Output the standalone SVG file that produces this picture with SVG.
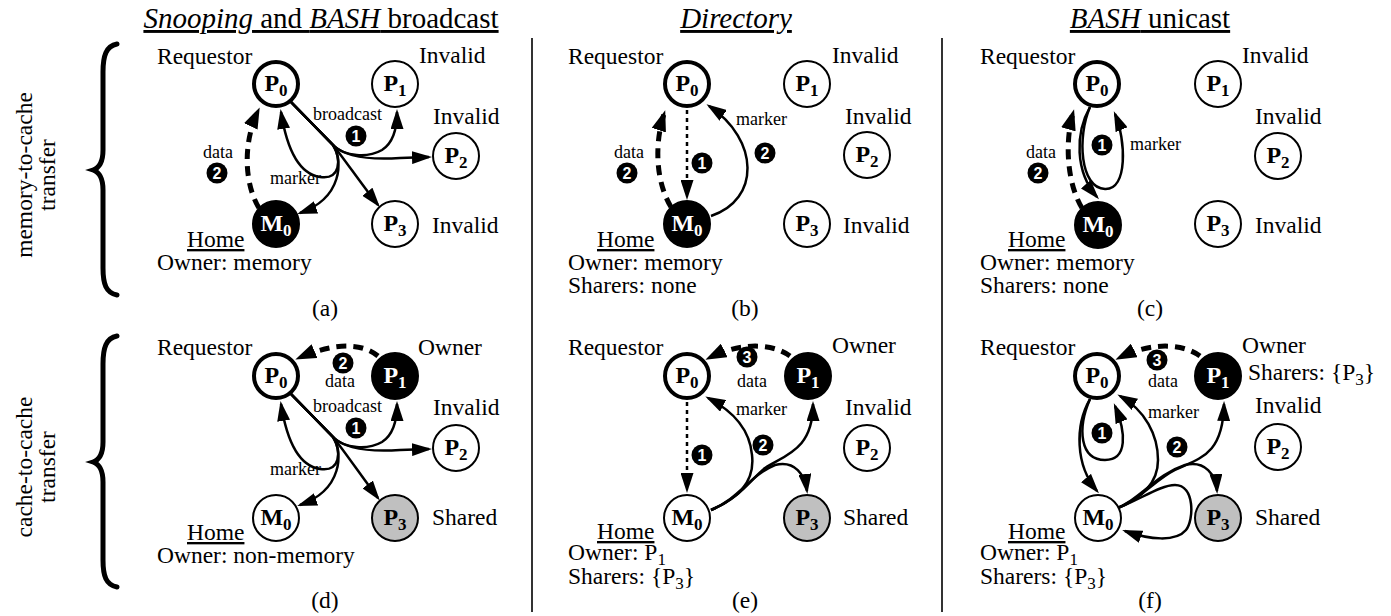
<svg xmlns="http://www.w3.org/2000/svg" width="1391" height="616" viewBox="0 0 1391 616">
<style>
text{font-family:"Liberation Serif","Times New Roman",serif;fill:#000}
.t{font-size:23.5px}
.s{font-size:18px}
.ti{font-size:29px;text-anchor:middle;text-decoration:underline}
.u{text-decoration:underline}
.nl{font-size:24px;font-weight:bold;text-anchor:middle}
.nl tspan{font-size:17px}
.w{fill:#fff}
.nd{fill:#fff;stroke:#000;stroke-width:2}
.rq{stroke-width:4}
.bk{fill:#000}
.gy{fill:#c0c0c0}
.c{fill:none;stroke:#000;stroke-width:2.5}
.d{fill:none;stroke:#000;stroke-width:5;stroke-dasharray:10 7}
.o{fill:none;stroke:#000;stroke-width:2.5;stroke-dasharray:4 4}
.a{marker-end:url(#ah)}
.A{marker-end:url(#AH)}
.bd circle{fill:#000}
.bd text{font-family:"Liberation Sans",Arial,sans-serif;font-weight:bold;font-size:16px;fill:#fff;text-anchor:middle}
.br{fill:none;stroke:#000;stroke-width:5;stroke-linecap:round}
.sep{stroke:#333;stroke-width:2}
</style>
<defs>
<marker id="ah" markerUnits="userSpaceOnUse" markerWidth="20" markerHeight="13" refX="17" refY="6.5" orient="auto"><path d="M0,0 L20,6.5 L0,13 z" fill="#000"/></marker>
<marker id="AH" markerUnits="userSpaceOnUse" markerWidth="21" markerHeight="15" refX="17" refY="7.5" orient="auto"><path d="M0,0 L21,7.5 L0,15 z" fill="#000"/></marker>
</defs>

<g id="headers">
<text class="ti" x="321" y="28"><tspan font-style="italic">Snooping</tspan> and <tspan font-style="italic">BASH</tspan> broadcast</text>
<text class="ti" x="736" y="28" font-style="italic">Directory</text>
<text class="ti" x="1150" y="28"><tspan font-style="italic">BASH</tspan> unicast</text>
<text class="t" transform="translate(32,175) rotate(-90)" text-anchor="middle" font-size="24">memory-to-cache</text>
<text class="t" transform="translate(55,175) rotate(-90)" text-anchor="middle" font-size="24">transfer</text>
<text class="t" transform="translate(32,467) rotate(-90)" text-anchor="middle" font-size="24">cache-to-cache</text>
<text class="t" transform="translate(55,467) rotate(-90)" text-anchor="middle" font-size="24">transfer</text>
<path class="br" d="M117,44 C106,46 103,56 103,72 L103,150 C103,162 99,168 93,170 C99,172 103,178 103,190 L103,268 C103,284 106,293 117,295"/>
<path class="br" d="M117,336 C106,338 103,348 103,364 L103,442 C103,454 99,460 93,462 C99,464 103,470 103,482 L103,560 C103,576 106,585 117,587"/>
<line class="sep" x1="532" y1="38" x2="532" y2="612"/>
<line class="sep" x1="942" y1="38" x2="942" y2="612"/>
</g>

<g id="panel-labels" class="t">
<text x="157" y="64">Requestor</text><text x="419" y="63">Invalid</text><text x="433" y="124">Invalid</text><text x="432" y="233">Invalid</text>
<text x="187" y="247" class="u">Home</text><text x="157" y="270">Owner: memory</text><text x="325" y="316" text-anchor="middle">(a)</text>

<text x="568" y="64">Requestor</text><text x="832" y="63">Invalid</text><text x="845" y="124">Invalid</text><text x="843" y="233">Invalid</text>
<text x="597" y="247" class="u">Home</text><text x="568" y="270">Owner: memory</text><text x="568" y="293">Sharers: none</text><text x="745" y="316" text-anchor="middle">(b)</text>

<text x="980" y="64">Requestor</text><text x="1242" y="63">Invalid</text><text x="1255" y="124">Invalid</text><text x="1255" y="233">Invalid</text>
<text x="1008" y="247" class="u">Home</text><text x="980" y="270">Owner: memory</text><text x="980" y="293">Sharers: none</text><text x="1150" y="316" text-anchor="middle">(c)</text>

<text x="157" y="355">Requestor</text><text x="418" y="355">Owner</text><text x="433" y="415">Invalid</text><text x="432" y="525">Shared</text>
<text x="187" y="540" class="u">Home</text><text x="157" y="563">Owner: non-memory</text><text x="325" y="608" text-anchor="middle">(d)</text>

<text x="568" y="355">Requestor</text><text x="832" y="353">Owner</text><text x="845" y="415">Invalid</text><text x="843" y="525">Shared</text>
<text x="597" y="539" class="u">Home</text><text x="568" y="560">Owner: P<tspan font-size="17" dy="5">1</tspan></text><text x="568" y="584">Sharers: {P<tspan font-size="17" dy="5">3</tspan><tspan dy="-5">}</tspan></text><text x="745" y="608" text-anchor="middle">(e)</text>

<text x="980" y="355">Requestor</text><text x="1242" y="353">Owner</text><text x="1248" y="380">Sharers: {P<tspan font-size="17" dy="5">3</tspan><tspan dy="-5">}</tspan></text><text x="1255" y="413">Invalid</text><text x="1255" y="525">Shared</text>
<text x="1008" y="539" class="u">Home</text><text x="980" y="560">Owner: P<tspan font-size="17" dy="5">1</tspan></text><text x="980" y="584">Sharers: {P<tspan font-size="17" dy="5">3</tspan><tspan dy="-5">}</tspan></text><text x="1150" y="608" text-anchor="middle">(f)</text>
</g>

<g id="connectors">
<!-- (a) -->
<path class="d A" d="M259,208 C245,185 242,145 258,111"/>
<path class="c a" d="M291,102 L333,145 C345,157 368,158 382,150 C393,143 397,128 397,112"/>
<path class="c a" d="M291,102 L333,145 C345,157 370,160 400,158 L429,157"/>
<path class="c a" d="M291,102 L333,145 C345,160 362,185 378,205"/>
<path class="c a" d="M291,102 L333,145 C343,160 343,198 300,213"/>
<path class="c a" d="M291,102 L333,145 C342,160 340,180 320,177 C300,174 287,150 281,112"/>
<text class="s" x="313" y="120">broadcast</text><text class="s" x="270" y="184">marker</text><text class="s" x="203" y="158">data</text>
<g class="bd"><circle cx="356" cy="136" r="10.5"/><text x="356" y="141.5">1</text></g>
<g class="bd"><circle cx="217" cy="173" r="10.5"/><text x="217" y="178.5">2</text></g>

<!-- (b) -->
<path class="d A" d="M671,207 C656,182 654,145 664,114"/>
<path class="o a" d="M687,110 L687,197"/>
<path class="c a" d="M711,216 C760,200 760,140 709,106"/>
<text class="s" x="614" y="158">data</text><text class="s" x="736" y="125">marker</text>
<g class="bd"><circle cx="702" cy="163" r="10.5"/><text x="702" y="168.5">1</text></g>
<g class="bd"><circle cx="627" cy="173" r="10.5"/><text x="627" y="178.5">2</text></g>
<g class="bd"><circle cx="765" cy="153" r="10.5"/><text x="765" y="158.5">2</text></g>

<!-- (c) -->
<path class="d A" d="M1082,208 C1068,185 1064,145 1073,113"/>
<path class="c a" d="M1090,107 C1075,133 1075,172 1097,197"/>
<path class="c a" d="M1090,107 C1077,137 1080,188 1105,189 C1128,190 1126,140 1115,114"/>
<text class="s" x="1026" y="158">data</text><text class="s" x="1130" y="150">marker</text>
<g class="bd"><circle cx="1102" cy="145" r="10.5"/><text x="1102" y="150.5">1</text></g>
<g class="bd"><circle cx="1038" cy="173" r="10.5"/><text x="1038" y="178.5">2</text></g>

<!-- (d) -->
<path class="d A" d="M378,356 C365,345 340,340 299,358"/>
<path class="c a" d="M291,394 L333,437 C345,449 368,450 382,442 C393,435 397,420 397,404"/>
<path class="c a" d="M291,394 L333,437 C345,449 370,452 400,450 L429,449"/>
<path class="c a" d="M291,394 L333,437 C345,452 362,477 378,498"/>
<path class="c a" d="M291,394 L333,437 C343,452 343,490 300,505"/>
<path class="c a" d="M291,394 L333,437 C342,452 340,472 320,469 C300,466 287,442 281,404"/>
<text class="s" x="325" y="387">data</text><text class="s" x="313" y="412">broadcast</text><text class="s" x="270" y="475">marker</text>
<g class="bd"><circle cx="343" cy="363" r="10.5"/><text x="343" y="368.5">2</text></g>
<g class="bd"><circle cx="356" cy="428" r="10.5"/><text x="356" y="433.5">1</text></g>

<!-- (e) -->
<path class="d A" d="M790,356 C775,345 745,340 709,358"/>
<path class="o a" d="M687,402 L687,490"/>
<path class="c a" d="M711,510 C740,498 755,480 752,455 C750,432 735,412 708,398"/>
<path class="c a" d="M711,510 C740,498 750,480 765,468 C785,455 813,450 813,404"/>
<path class="c a" d="M711,510 C740,498 750,475 775,465 C795,460 805,475 807,491"/>
<text class="s" x="737" y="387">data</text><text class="s" x="736" y="415">marker</text>
<g class="bd"><circle cx="747" cy="357" r="10.5"/><text x="747" y="362.5">3</text></g>
<g class="bd"><circle cx="702" cy="455" r="10.5"/><text x="702" y="460.5">1</text></g>
<g class="bd"><circle cx="763" cy="445" r="10.5"/><text x="763" y="450.5">2</text></g>

<!-- (f) -->
<path class="d A" d="M1200,356 C1185,345 1155,340 1119,358"/>
<path class="c a" d="M1090,399 C1075,425 1075,465 1097,491"/>
<path class="c a" d="M1090,399 C1077,429 1080,460 1105,460 C1128,460 1126,432 1115,406"/>
<path class="c a" d="M1113,510 C1140,500 1158,485 1158,460 C1158,435 1145,410 1120,396"/>
<path class="c a" d="M1113,510 C1140,500 1155,480 1175,470 C1200,458 1223,455 1224,404"/>
<path class="c a" d="M1113,510 C1140,500 1155,475 1185,465 C1205,460 1216,475 1217,491"/>
<path class="c a" d="M1113,510 C1140,500 1160,485 1175,485 C1195,485 1194,520 1186,530 C1176,542 1150,540 1125,531"/>
<text class="s" x="1148" y="387">data</text><text class="s" x="1148" y="418">marker</text>
<g class="bd"><circle cx="1157" cy="360" r="10.5"/><text x="1157" y="365.5">3</text></g>
<g class="bd"><circle cx="1102" cy="433" r="10.5"/><text x="1102" y="438.5">1</text></g>
<g class="bd"><circle cx="1177" cy="447" r="10.5"/><text x="1177" y="452.5">2</text></g>
</g>

<g id="a-P0"><circle class="nd rq" cx="276" cy="84" r="22"/><text class="nl" x="276" y="91">P<tspan dy="5">0</tspan></text></g>
<g id="a-P1"><circle class="nd" cx="395" cy="84" r="23"/><text class="nl" x="395" y="91">P<tspan dy="5">1</tspan></text></g>
<g id="a-P2"><circle class="nd" cx="456" cy="156" r="23"/><text class="nl" x="456" y="163">P<tspan dy="5">2</tspan></text></g>
<g id="a-P3"><circle class="nd" cx="395" cy="224" r="23"/><text class="nl" x="395" y="231">P<tspan dy="5">3</tspan></text></g>
<g id="a-M0"><circle class="nd bk" cx="276" cy="224" r="23"/><text class="nl w" x="276" y="231">M<tspan dy="5">0</tspan></text></g>
<g id="b-P0"><circle class="nd rq" cx="687" cy="84" r="22"/><text class="nl" x="687" y="91">P<tspan dy="5">0</tspan></text></g>
<g id="b-P1"><circle class="nd" cx="807" cy="84" r="23"/><text class="nl" x="807" y="91">P<tspan dy="5">1</tspan></text></g>
<g id="b-P2"><circle class="nd" cx="867" cy="155" r="23"/><text class="nl" x="867" y="162">P<tspan dy="5">2</tspan></text></g>
<g id="b-P3"><circle class="nd" cx="807" cy="224" r="23"/><text class="nl" x="807" y="231">P<tspan dy="5">3</tspan></text></g>
<g id="b-M0"><circle class="nd bk" cx="687" cy="224" r="23"/><text class="nl w" x="687" y="231">M<tspan dy="5">0</tspan></text></g>
<g id="c-P0"><circle class="nd rq" cx="1097" cy="84" r="22"/><text class="nl" x="1097" y="91">P<tspan dy="5">0</tspan></text></g>
<g id="c-P1"><circle class="nd" cx="1218" cy="84" r="23"/><text class="nl" x="1218" y="91">P<tspan dy="5">1</tspan></text></g>
<g id="c-P2"><circle class="nd" cx="1278" cy="156" r="23"/><text class="nl" x="1278" y="163">P<tspan dy="5">2</tspan></text></g>
<g id="c-P3"><circle class="nd" cx="1218" cy="224" r="23"/><text class="nl" x="1218" y="231">P<tspan dy="5">3</tspan></text></g>
<g id="c-M0"><circle class="nd bk" cx="1098" cy="225" r="23"/><text class="nl w" x="1098" y="232">M<tspan dy="5">0</tspan></text></g>
<g id="d-P0"><circle class="nd rq" cx="276" cy="376" r="22"/><text class="nl" x="276" y="383">P<tspan dy="5">0</tspan></text></g>
<g id="d-P1"><circle class="nd bk" cx="395" cy="376" r="23"/><text class="nl w" x="395" y="383">P<tspan dy="5">1</tspan></text></g>
<g id="d-P2"><circle class="nd" cx="456" cy="448" r="23"/><text class="nl" x="456" y="455">P<tspan dy="5">2</tspan></text></g>
<g id="d-P3"><circle class="nd gy" cx="395" cy="518" r="23"/><text class="nl" x="395" y="525">P<tspan dy="5">3</tspan></text></g>
<g id="d-M0"><circle class="nd" cx="276" cy="518" r="23"/><text class="nl" x="276" y="525">M<tspan dy="5">0</tspan></text></g>
<g id="e-P0"><circle class="nd rq" cx="687" cy="376" r="22"/><text class="nl" x="687" y="383">P<tspan dy="5">0</tspan></text></g>
<g id="e-P1"><circle class="nd bk" cx="808" cy="376" r="23"/><text class="nl w" x="808" y="383">P<tspan dy="5">1</tspan></text></g>
<g id="e-P2"><circle class="nd" cx="867" cy="448" r="23"/><text class="nl" x="867" y="455">P<tspan dy="5">2</tspan></text></g>
<g id="e-P3"><circle class="nd gy" cx="807" cy="518" r="23"/><text class="nl" x="807" y="525">P<tspan dy="5">3</tspan></text></g>
<g id="e-M0"><circle class="nd" cx="687" cy="518" r="23"/><text class="nl" x="687" y="525">M<tspan dy="5">0</tspan></text></g>
<g id="f-P0"><circle class="nd rq" cx="1097" cy="376" r="22"/><text class="nl" x="1097" y="383">P<tspan dy="5">0</tspan></text></g>
<g id="f-P1"><circle class="nd bk" cx="1218" cy="376" r="23"/><text class="nl w" x="1218" y="383">P<tspan dy="5">1</tspan></text></g>
<g id="f-P2"><circle class="nd" cx="1278" cy="447" r="23"/><text class="nl" x="1278" y="454">P<tspan dy="5">2</tspan></text></g>
<g id="f-P3"><circle class="nd gy" cx="1218" cy="518" r="23"/><text class="nl" x="1218" y="525">P<tspan dy="5">3</tspan></text></g>
<g id="f-M0"><circle class="nd" cx="1098" cy="518" r="23"/><text class="nl" x="1098" y="525">M<tspan dy="5">0</tspan></text></g>
</svg>
